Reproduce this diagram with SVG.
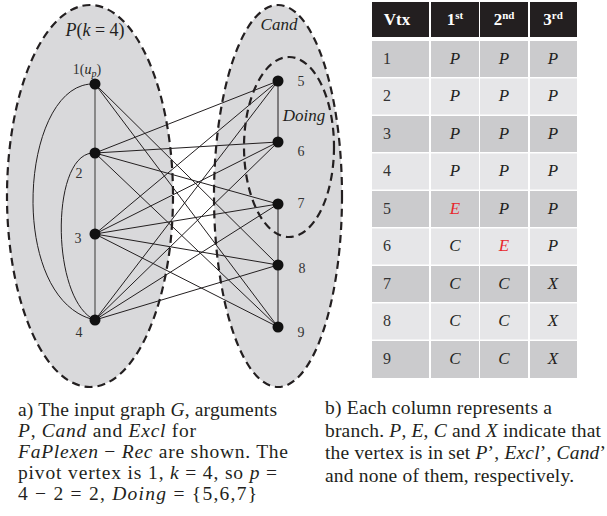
<svg xmlns="http://www.w3.org/2000/svg" width="607" height="516" viewBox="0 0 607 516">
<style>
text{font-family:"Liberation Serif","Times New Roman",Times,serif}
.set{fill:#d9d9db;stroke:#231f20;stroke-width:2.2;stroke-dasharray:8,5}
.doing{fill:none;stroke:#231f20;stroke-width:2.2;stroke-dasharray:8,5}
.e{stroke:#231f20;stroke-width:1;fill:none}
.v{stroke:#666;stroke-width:1.4}
.n{fill:#111}
.lbl{font-size:14px;fill:#333}
.m{font-style:italic;fill:#231f20}
.hd{fill:#231f20}
.ht{font-weight:bold;font-size:17px;fill:#fff}
.r1{fill:#cbcbcd}
.r2{fill:#e6e6e8}
.num{font-size:16px;fill:#333}
.val{font-style:italic;font-size:17px;fill:#231f20;text-anchor:middle}
.red{fill:#e8262b}
.cap{font-size:19.5px;fill:#231f20}
.it{font-style:italic}
</style>

<g id="setP"><ellipse class="set" cx="90" cy="196" rx="83" ry="191"/></g>
<g id="setCand"><ellipse class="set" cx="278" cy="196" rx="64" ry="191"/></g>
<g id="setDoing"><ellipse class="doing" cx="289" cy="147" rx="45" ry="90"/></g>

<g id="connectors">
<line class="v" x1="95" y1="84" x2="95" y2="320"/>
<path class="e" d="M95,84 C20,80 5,300 95,320"/>
<path class="e" d="M95,153 C50,150 50,300 95,320"/>
<line class="e" x1="95" y1="84" x2="278" y2="265"/>
<line class="e" x1="95" y1="84" x2="278" y2="327"/>
<line class="e" x1="95" y1="153" x2="278" y2="81"/>
<line class="e" x1="95" y1="153" x2="278" y2="142"/>
<line class="e" x1="95" y1="153" x2="278" y2="204"/>
<line class="e" x1="95" y1="153" x2="278" y2="327"/>
<line class="e" x1="95" y1="234" x2="278" y2="81"/>
<line class="e" x1="95" y1="234" x2="278" y2="142"/>
<line class="e" x1="95" y1="234" x2="278" y2="204"/>
<line class="e" x1="95" y1="234" x2="278" y2="265"/>
<line class="e" x1="95" y1="234" x2="278" y2="327"/>
<line class="e" x1="95" y1="320" x2="278" y2="81"/>
<line class="e" x1="95" y1="320" x2="278" y2="142"/>
<line class="e" x1="95" y1="320" x2="278" y2="204"/>
<line class="e" x1="95" y1="320" x2="278" y2="265"/>
<line class="e" x1="278" y1="81" x2="278" y2="142"/>
<line class="e" x1="278" y1="204" x2="278" y2="327"/>
</g>

<text x="95" y="36" class="m" font-size="18" text-anchor="middle">P<tspan font-style="normal">(</tspan>k<tspan font-style="normal"> = 4)</tspan></text>
<text x="279" y="30" class="m" font-size="17" text-anchor="middle">Cand</text>
<text x="304" y="121" class="m" font-size="17" text-anchor="middle">Doing</text>

<g id="v1"><circle class="n" cx="95" cy="84" r="5.5"/><text class="lbl" x="87" y="74" text-anchor="middle">1(<tspan class="m">u</tspan><tspan class="m" font-size="10" dy="3">p</tspan><tspan dy="-3">)</tspan></text></g>
<g id="v2"><circle class="n" cx="95" cy="153" r="5.5"/><text class="lbl" x="79" y="178" text-anchor="middle">2</text></g>
<g id="v3"><circle class="n" cx="95" cy="234" r="5.5"/><text class="lbl" x="78" y="243" text-anchor="middle">3</text></g>
<g id="v4"><circle class="n" cx="95" cy="320" r="5.5"/><text class="lbl" x="79" y="337" text-anchor="middle">4</text></g>
<g id="v5"><circle class="n" cx="278" cy="81" r="5.5"/><text class="lbl" x="301" y="86" text-anchor="middle">5</text></g>
<g id="v6"><circle class="n" cx="278" cy="142" r="5.5"/><text class="lbl" x="301" y="156" text-anchor="middle">6</text></g>
<g id="v7"><circle class="n" cx="278" cy="204" r="5.5"/><text class="lbl" x="301" y="208" text-anchor="middle">7</text></g>
<g id="v8"><circle class="n" cx="278" cy="265" r="5.5"/><text class="lbl" x="302" y="273" text-anchor="middle">8</text></g>
<g id="v9"><circle class="n" cx="278" cy="327" r="5.5"/><text class="lbl" x="301" y="337" text-anchor="middle">9</text></g>

<g id="table">
<rect class="hd" x="372" y="2" width="57" height="35"/>
<rect class="hd" x="431" y="2" width="48" height="35"/>
<rect class="hd" x="480" y="2" width="48" height="35"/>
<rect class="hd" x="530" y="2" width="47" height="35"/>
<text class="ht" x="397" y="25" text-anchor="middle">Vtx</text>
<text class="ht" x="455" y="25" text-anchor="middle">1<tspan font-size="11" dy="-6">st</tspan></text>
<text class="ht" x="504" y="25" text-anchor="middle">2<tspan font-size="11" dy="-6">nd</tspan></text>
<text class="ht" x="553" y="25" text-anchor="middle">3<tspan font-size="11" dy="-6">rd</tspan></text>

<g id="row1" class="r1"><rect x="372" y="41" width="57" height="36"/><rect x="431" y="41" width="48" height="36"/><rect x="480" y="41" width="48" height="36"/><rect x="530" y="41" width="47" height="36"/></g>
<g id="row2" class="r2"><rect x="372" y="78.5" width="57" height="36"/><rect x="431" y="78.5" width="48" height="36"/><rect x="480" y="78.5" width="48" height="36"/><rect x="530" y="78.5" width="47" height="36"/></g>
<g id="row3" class="r1"><rect x="372" y="116" width="57" height="36"/><rect x="431" y="116" width="48" height="36"/><rect x="480" y="116" width="48" height="36"/><rect x="530" y="116" width="47" height="36"/></g>
<g id="row4" class="r2"><rect x="372" y="153.5" width="57" height="36"/><rect x="431" y="153.5" width="48" height="36"/><rect x="480" y="153.5" width="48" height="36"/><rect x="530" y="153.5" width="47" height="36"/></g>
<g id="row5" class="r1"><rect x="372" y="191" width="57" height="36"/><rect x="431" y="191" width="48" height="36"/><rect x="480" y="191" width="48" height="36"/><rect x="530" y="191" width="47" height="36"/></g>
<g id="row6" class="r2"><rect x="372" y="228.5" width="57" height="36"/><rect x="431" y="228.5" width="48" height="36"/><rect x="480" y="228.5" width="48" height="36"/><rect x="530" y="228.5" width="47" height="36"/></g>
<g id="row7" class="r1"><rect x="372" y="266" width="57" height="36"/><rect x="431" y="266" width="48" height="36"/><rect x="480" y="266" width="48" height="36"/><rect x="530" y="266" width="47" height="36"/></g>
<g id="row8" class="r2"><rect x="372" y="303.5" width="57" height="36"/><rect x="431" y="303.5" width="48" height="36"/><rect x="480" y="303.5" width="48" height="36"/><rect x="530" y="303.5" width="47" height="36"/></g>
<g id="row9" class="r1"><rect x="372" y="341" width="57" height="37"/><rect x="431" y="341" width="48" height="37"/><rect x="480" y="341" width="48" height="37"/><rect x="530" y="341" width="47" height="37"/></g>

<text class="num" x="383" y="64">1</text>
<text class="num" x="383" y="101">2</text>
<text class="num" x="383" y="139">3</text>
<text class="num" x="383" y="176">4</text>
<text class="num" x="383" y="214">5</text>
<text class="num" x="383" y="251">6</text>
<text class="num" x="383" y="289">7</text>
<text class="num" x="383" y="326">8</text>
<text class="num" x="383" y="364">9</text>

<text class="val" x="455" y="64">P</text><text class="val" x="504" y="64">P</text><text class="val" x="553" y="64">P</text>
<text class="val" x="455" y="101">P</text><text class="val" x="504" y="101">P</text><text class="val" x="553" y="101">P</text>
<text class="val" x="455" y="139">P</text><text class="val" x="504" y="139">P</text><text class="val" x="553" y="139">P</text>
<text class="val" x="455" y="176">P</text><text class="val" x="504" y="176">P</text><text class="val" x="553" y="176">P</text>
<text class="val red" x="455" y="214">E</text><text class="val" x="504" y="214">P</text><text class="val" x="553" y="214">P</text>
<text class="val" x="455" y="251">C</text><text class="val red" x="504" y="251">E</text><text class="val" x="553" y="251">P</text>
<text class="val" x="455" y="289">C</text><text class="val" x="504" y="289">C</text><text class="val" x="553" y="289">X</text>
<text class="val" x="455" y="326">C</text><text class="val" x="504" y="326">C</text><text class="val" x="553" y="326">X</text>
<text class="val" x="455" y="364">C</text><text class="val" x="504" y="364">C</text><text class="val" x="553" y="364">X</text>
</g>

<g id="captionA" class="cap">
<text x="18" y="416" textLength="259" lengthAdjust="spacing">a) The input graph <tspan class="it">G</tspan>, arguments</text>
<text x="18" y="437" textLength="178" lengthAdjust="spacing"><tspan class="it">P</tspan>, <tspan class="it">Cand</tspan> and <tspan class="it">Excl</tspan>  for</text>
<text x="18" y="458" textLength="270" lengthAdjust="spacing"><tspan class="it">FaPlexen</tspan> − <tspan class="it">Rec</tspan> are shown. The</text>
<text x="18" y="479" textLength="259" lengthAdjust="spacing">pivot vertex is 1, <tspan class="it">k</tspan> = 4, so <tspan class="it">p</tspan> =</text>
<text x="18" y="500" textLength="239" lengthAdjust="spacing">4 − 2 = 2,  <tspan class="it">Doing</tspan> = {5,6,7}</text>
</g>
<g id="captionB" class="cap">
<text x="325" y="414" textLength="227" lengthAdjust="spacing">b) Each column represents a</text>
<text x="325" y="437" textLength="276" lengthAdjust="spacing">branch. <tspan class="it">P</tspan>, <tspan class="it">E</tspan>, <tspan class="it">C</tspan> and <tspan class="it">X</tspan> indicate that</text>
<text x="325" y="459" textLength="281" lengthAdjust="spacing">the vertex is in set <tspan class="it">P</tspan>’, <tspan class="it">Excl</tspan>’, <tspan class="it">Cand</tspan>’</text>
<text x="325" y="482" textLength="249" lengthAdjust="spacing">and none of them, respectively.</text>
</g>
</svg>
